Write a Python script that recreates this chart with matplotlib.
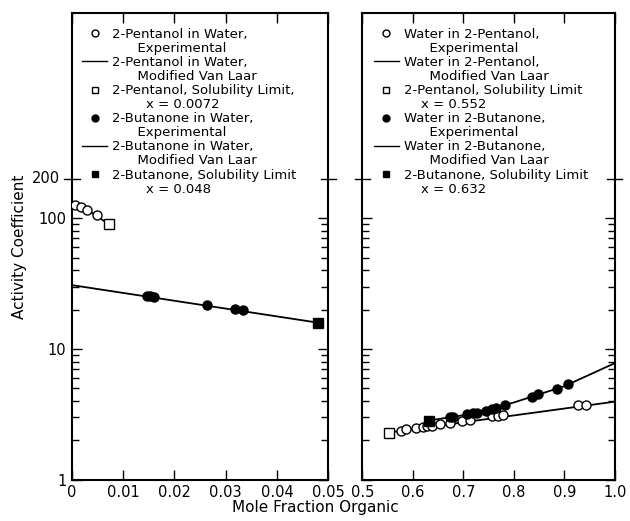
import matplotlib
matplotlib.use("Agg")
import matplotlib.pyplot as plt
from matplotlib.lines import Line2D
from matplotlib.ticker import FixedLocator, NullFormatter, FixedFormatter
import matplotlib.transforms as mtransforms

# ---------------- data ----------------
# Left panel: organic in water
pent_exp_x = [0.0007, 0.0017, 0.0029, 0.0049]
pent_exp_g = [126, 121, 115, 105]
pent_vl_x = [0.0, 0.0036, 0.0072]
pent_vl_g = [130, 112, 90]
pent_sol_x = [0.0072]
pent_sol_g = [90]

but_exp_x = [0.0146, 0.0153, 0.0160, 0.0263, 0.0318, 0.0333]
but_exp_g = [25.6, 25.3, 25.0, 21.7, 20.4, 19.9]
but_vl_x = [0.0, 0.048]
but_vl_g = [30.8, 15.9]
but_sol_x = [0.048]
but_sol_g = [15.9]

# Right panel: water in organic
wpent_exp_x = [0.577, 0.587, 0.607, 0.621, 0.628, 0.638, 0.654, 0.673, 0.697,
               0.713, 0.756, 0.769, 0.779, 0.927, 0.943]
wpent_exp_g = [2.37, 2.44, 2.51, 2.55, 2.57, 2.60, 2.66, 2.72, 2.82,
               2.89, 3.06, 3.08, 3.12, 3.72, 3.72]
wpent_vl_x = [0.552, 1.0]
wpent_vl_g = [2.30, 3.96]
wpent_sol_x = [0.552]
wpent_sol_g = [2.30]

wbut_exp_x = [0.674, 0.680, 0.707, 0.720, 0.727, 0.745, 0.756, 0.765, 0.783,
              0.835, 0.848, 0.886, 0.908]
wbut_exp_g = [3.01, 3.01, 3.17, 3.23, 3.25, 3.38, 3.50, 3.56, 3.74,
              4.32, 4.51, 4.95, 5.40]
wbut_vl_x = [0.632, 0.7, 0.8, 0.9, 1.0]
wbut_vl_g = [2.84, 3.12, 3.90, 5.2, 7.8]
wbut_sol_x = [0.632]
wbut_sol_g = [2.84]

left_xticks = [0, 0.01, 0.02, 0.03, 0.04, 0.05]
left_xlabels = ["0", "0.01", "0.02", "0.03", "0.04", "0.05"]
right_xticks = [0.5, 0.6, 0.7, 0.8, 0.9, 1.0]
right_xlabels = ["0.5", "0.6", "0.7", "0.8", "0.9", "1.0"]
yticks = [1, 10, 100]
ylabels = ["1", "10", "100"]
break_tick = 200

left_legend = [
    "2-Pentanol in Water,", "      Experimental",
    "2-Pentanol in Water,", "      Modified Van Laar",
    "2-Pentanol, Solubility Limit,", "        x = 0.0072",
    "2-Butanone in Water,", "      Experimental",
    "2-Butanone in Water,", "      Modified Van Laar",
    "2-Butanone, Solubility Limit", "        x = 0.048",
]
right_legend = [
    "Water in 2-Pentanol,", "      Experimental",
    "Water in 2-Pentanol,", "      Modified Van Laar",
    "2-Pentanol, Solubility Limit", "    x = 0.552",
    "Water in 2-Butanone,", "      Experimental",
    "Water in 2-Butanone,", "      Modified Van Laar",
    "2-Butanone, Solubility Limit", "    x = 0.632",
]

# ---------------- figure ----------------
plt.rcParams['font.family'] = ['DejaVu Sans']
fig = plt.figure(figsize=(6.3, 5.21), dpi=100)
axL = fig.add_axes([0.114, 0.079, 0.407, 0.896])
axR = fig.add_axes([0.575, 0.079, 0.401, 0.896])

ms = 6.5
lw = 1.3

def draw(ax, ex, eg, vx, vg, sx, sg, filled):
    fc = 'black' if filled else 'white'
    ax.plot(vx, vg, color='black', lw=lw, zorder=2)
    ax.plot(ex, eg, ls='none', marker='o', ms=ms, mfc=fc, mec='black', mew=1.0, zorder=3)
    ax.plot(sx, sg, ls='none', marker='s', ms=ms, mfc=fc, mec='black', mew=1.0, zorder=3)

draw(axL, pent_exp_x, pent_exp_g, pent_vl_x, pent_vl_g, pent_sol_x, pent_sol_g, False)
draw(axL, but_exp_x, but_exp_g, but_vl_x, but_vl_g, but_sol_x, but_sol_g, True)
draw(axR, wpent_exp_x, wpent_exp_g, wpent_vl_x, wpent_vl_g, wpent_sol_x, wpent_sol_g, False)
draw(axR, wbut_exp_x, wbut_exp_g, wbut_vl_x, wbut_vl_g, wbut_sol_x, wbut_sol_g, True)

minor = [m * d for d in (1, 10) for m in range(2, 10)]

for ax, xt, xl, xlim in ((axL, left_xticks, left_xlabels, (0, 0.05)),
                         (axR, right_xticks, right_xlabels, (0.5, 1.0))):
    ax.set_yscale('log')
    ax.set_ylim(1, 3700)
    ax.set_xlim(*xlim)
    ax.xaxis.set_major_locator(FixedLocator(xt))
    ax.xaxis.set_major_formatter(FixedFormatter(xl))
    ax.yaxis.set_major_locator(FixedLocator(yticks))
    ax.yaxis.set_minor_locator(FixedLocator(minor))
    ax.yaxis.set_minor_formatter(NullFormatter())
    ax.tick_params(which='both', direction='in', top=True, right=True, width=1.0,
                   labelsize=10.5, pad=4)
    ax.tick_params(which='major', length=7)
    ax.tick_params(which='minor', length=5)
    for s in ax.spines.values():
        s.set_linewidth(1.5)
    trans = mtransforms.blended_transform_factory(ax.transAxes, ax.transData)
    ax.plot([-0.03, 0.03], [break_tick, break_tick], color='black', lw=1.0,
            transform=trans, clip_on=False)
    ax.plot([0.97, 1.03], [break_tick, break_tick], color='black', lw=1.0,
            transform=trans, clip_on=False)

axL.yaxis.set_major_formatter(FixedFormatter(ylabels))
axL.text(-0.045, break_tick, "200", transform=mtransforms.blended_transform_factory(axL.transAxes, axL.transData),
         ha='right', va='center', fontsize=10.5)
axR.yaxis.set_major_formatter(NullFormatter())

axL.set_ylabel("Activity Coefficient", fontsize=11, labelpad=8)
fig.text(0.5, 0.012, "Mole Fraction Organic", ha='center', va='bottom', fontsize=11)

def legend_handles():
    blank = Line2D([], [], ls='none')
    oc = Line2D([], [], ls='none', marker='o', ms=5, mfc='white', mec='black')
    ln = Line2D([], [], color='black', lw=1.0)
    osq = Line2D([], [], ls='none', marker='s', ms=5, mfc='white', mec='black')
    fc = Line2D([], [], ls='none', marker='o', ms=5, mfc='black', mec='black')
    fsq = Line2D([], [], ls='none', marker='s', ms=5, mfc='black', mec='black')
    return [oc, blank, ln, blank, osq, blank, fc, blank, ln, blank, fsq, blank]

for ax, labels, x0 in ((axL, left_legend, 0.04), (axR, right_legend, 0.045)):
    ax.legend(legend_handles(), labels, loc='upper left', bbox_to_anchor=(x0, 0.968),
              frameon=False, fontsize=9.5, handlelength=1.9, handletextpad=0.4,
              labelspacing=0.08, borderaxespad=0, borderpad=0)

fig.savefig("out.png", dpi=100)
